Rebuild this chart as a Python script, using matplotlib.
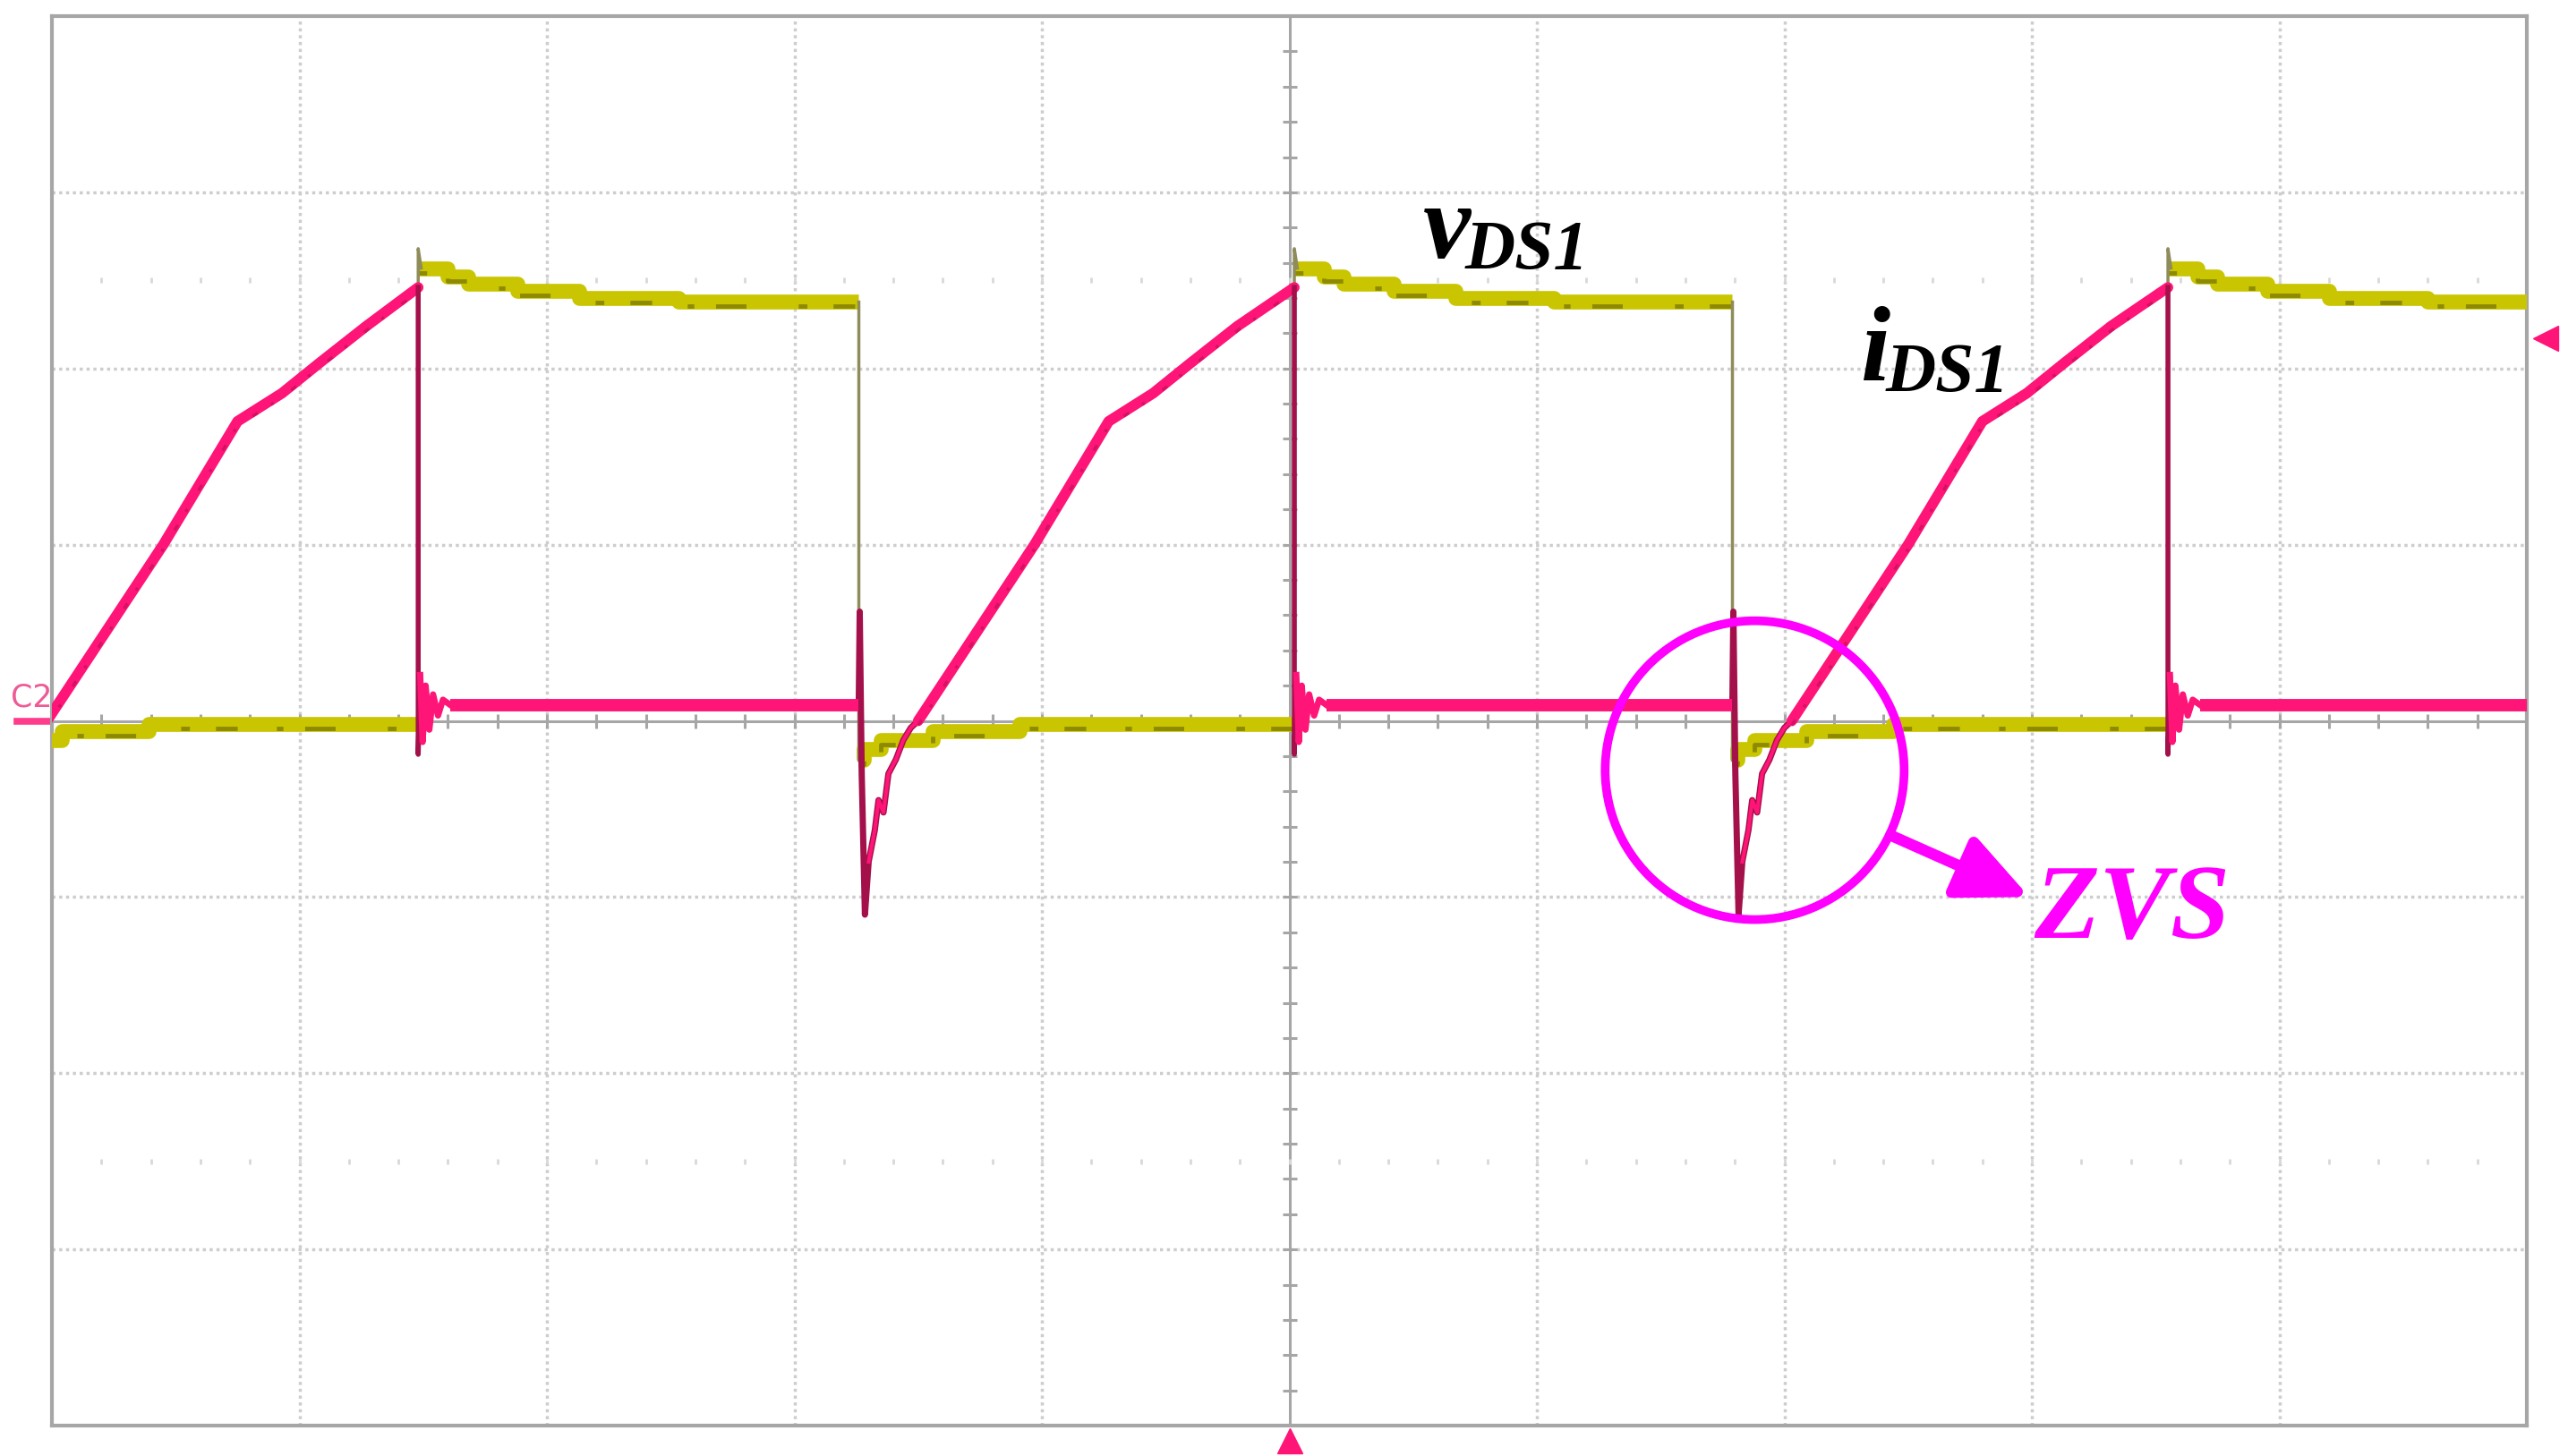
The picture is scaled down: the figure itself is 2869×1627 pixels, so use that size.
import matplotlib.pyplot as plt
from matplotlib.patches import Ellipse, FancyArrowPatch
from matplotlib.transforms import offset_copy

# Scope screen: 10 x 8 divisions, every value below is in divisions
# read off the capture (x from left edge, y from the centre line).

# switching edges of v_DS1
v_rise = [1.48, 5.02, 8.55]
v_fall = [-0.26, 3.26, 6.79]

# v_DS1 plateau after a rising edge (offset, level) and the overshoot spike
v_spike = 2.68
v_high_dt = [0.0, 0.12, 0.20, 0.40, 0.65, 1.05]
v_high_lv = [2.57, 2.52, 2.48, 2.44, 2.40, 2.38]
# v_DS1 plateau after a falling edge
v_low_dt = [0.0, 0.02, 0.09, 0.30, 0.65]
v_low_lv = [-0.22, -0.16, -0.11, -0.06, -0.02]

# i_DS1 turn-on transient, offset from the v_DS1 falling edge
i_on_dt = [0.0, 0.004, 0.012, 0.025, 0.04, 0.065, 0.08, 0.10, 0.12, 0.15, 0.18, 0.21, 0.24]
i_on_lv = [0.09, 0.62, -0.30, -1.10, -0.80, -0.62, -0.45, -0.52, -0.30, -0.22, -0.11, -0.04, 0.00]
# i_DS1 ramp, offset from the zero crossing
i_ramp_dt = [0.0, 0.47, 0.77, 0.95, 1.10, 1.29]
i_ramp_lv = [0.0, 1.00, 1.70, 1.86, 2.03, 2.24]
i_peak = 2.46
# i_DS1 turn-off ringing, offset from the v_DS1 rising edge
i_off_dt = [0.0, 0.008, 0.018, 0.03, 0.045, 0.06, 0.08, 0.10, 0.13]
i_off_lv = [-0.19, 0.26, -0.12, 0.20, -0.05, 0.15, 0.03, 0.12, 0.09]
i_off_level = 0.09

trigger_time = 5.0
trigger_level = 2.17
c2_ground = 0.0

YEL = '#C9C500'
YEL_DARK = '#5E5B00'
YEL_EDGE = '#8F8C5C'
PINK = '#FF1477'
PINK_DARK = '#A3104A'
MAGENTA = '#FF00FF'
GRID = '#CDCDCD'
AXIS = '#A6A6A6'

fig = plt.figure(figsize=(28.69, 16.27), dpi=100)
ax = fig.add_axes([58 / 2869, 1 - 1593 / 1627, 2765 / 2869, 1575 / 1627])
ax.set_xlim(0, 10)
ax.set_ylim(-4, 4)
ax.set_xticks([])
ax.set_yticks([])
for s in ax.spines.values():
    s.set_color(AXIS)
    s.set_linewidth(3)

# graticule
for x in range(1, 10):
    if x != 5:
        ax.axvline(x, color=GRID, lw=2.5, ls=(0, (1, 1.2)), zorder=0)
for y in range(-3, 4):
    if y != 0:
        ax.axhline(y, color=GRID, lw=2.5, ls=(0, (1, 1.2)), zorder=0)
ax.axvline(5, color=AXIS, lw=2.2, zorder=0)
ax.axhline(0, color=AXIS, lw=2.2, zorder=0)
minor_x = [k * 0.2 for k in range(1, 50)]
minor_y = [-4 + k * 0.2 for k in range(1, 40)]
ax.plot([5] * len(minor_y), minor_y, ls='none', marker='_', ms=12, mew=2.2, color=AXIS, zorder=0)
ax.plot(minor_x, [0] * len(minor_x), ls='none', marker='|', ms=12, mew=2.2, color=AXIS, zorder=0)
for yy in (2.5, -2.5):
    ax.plot(minor_x, [yy] * len(minor_x), ls='none', marker='|', ms=5, mew=2, color='#D8D8D8', zorder=0)

# v_DS1 trace
below = offset_copy(ax.transData, fig=fig, x=0, y=-5, units='dots')
edges = sorted([(t, 'r') for t in v_rise] + [(t, 'f') for t in v_fall])
bounds = [e[0] for e in edges[1:]] + [10.0]
for (t0, kind), t1 in zip(edges, bounds):
    dts, lvs = (v_high_dt, v_high_lv) if kind == 'r' else (v_low_dt, v_low_lv)
    xs = [t0 + d for d in dts if t0 + d < t1]
    ys = lvs[:len(xs)]
    xs.append(t1)
    ys.append(ys[-1])
    ax.plot(xs, ys, drawstyle='steps-post', color=YEL, lw=12, solid_capstyle='butt', zorder=3)
    # dark speckle of the display along the band
    ax.plot(xs, ys, drawstyle='steps-post', color=YEL_DARK, lw=3.5, alpha=0.55,
            ls=(0, (2, 6, 5, 9, 1.5, 5, 7, 12)), transform=below, zorder=3)
for t in v_rise:
    ax.plot([t, t, t + 0.012], [v_low_lv[-1], v_spike, v_high_lv[0]], color=YEL_EDGE, lw=2.5, zorder=4)
for t in v_fall:
    ax.plot([t, t], [v_high_lv[-1], v_low_lv[0]], color=YEL_EDGE, lw=2.5, zorder=4)

# i_DS1 trace
for tf, tr in zip(v_fall, v_rise):
    ax.plot([tf + d for d in i_on_dt], i_on_lv, color=PINK_DARK, lw=5, zorder=5)
    ax.plot([tf + d for d in i_on_dt[4:]], i_on_lv[4:], color=PINK, lw=3, zorder=5)
    z = tf + i_on_dt[-1]
    rx = [z + d for d in i_ramp_dt] + [tr]
    ry = i_ramp_lv + [i_peak]
    ax.plot(rx, ry, color=PINK, lw=8.5, solid_capstyle='round', zorder=5)
    ax.plot(rx, ry, color=PINK_DARK, lw=2.5, alpha=0.45, ls=(0, (2, 5, 1, 7)),
            transform=below, zorder=5)
    ox = [tr] + [tr + d for d in i_off_dt]
    oy = [i_peak] + i_off_lv
    ax.plot(ox, oy, color=PINK_DARK, lw=4, zorder=5)
    ax.plot(ox[2:], oy[2:], color=PINK, lw=5, zorder=5)
starts = [tr + i_off_dt[-1] for tr in v_rise]
ends = v_fall[1:] + [10.0]
for a, b in zip(starts, ends):
    ax.plot([a, b], [i_off_level, i_off_level], color=PINK, lw=10, solid_capstyle='butt', zorder=5)

# scope markers outside the screen
ax.plot([trigger_time], [-4.085], marker='^', ms=20, color=PINK, clip_on=False, zorder=6)
ax.plot([10.075], [trigger_level], marker='<', ms=20, color=PINK, clip_on=False, zorder=6)
ax.plot([-0.14, -0.015], [c2_ground, c2_ground], color='#FF3C8C', lw=5.5, clip_on=False)
ax.text(-0.165, c2_ground + 0.08, 'C2', color='#EE5A95', fontsize=25, ha='left', va='baseline',
        fontfamily='DejaVu Sans', clip_on=False)

# labels
lab = dict(fontfamily='Liberation Serif', fontweight='bold', fontstyle='italic',
           ha='left', va='baseline', zorder=8)
ax.text(5.54, 2.63, 'v', fontsize=86, color='black', **lab)
ax.text(5.71, 2.57, 'DS1', fontsize=56, color='black', **lab)
ax.text(7.31, 1.94, 'i', fontsize=86, color='black', **lab)
ax.text(7.41, 1.87, 'DS1', fontsize=56, color='black', **lab)
ax.text(8.01, -1.23, 'ZVS', fontsize=86, color=MAGENTA, **lab)

ax.add_patch(Ellipse((6.88, -0.28), 1.208, 1.696, fill=False, ec=MAGENTA, lw=7, zorder=9))
ax.add_patch(FancyArrowPatch((7.43, -0.65), (7.99, -1.0),
                             arrowstyle='-|>,head_length=1.2,head_width=0.55',
                             mutation_scale=40, lw=9, color=MAGENTA,
                             shrinkA=0, shrinkB=0, zorder=9))

fig.savefig('out.png', dpi=100, facecolor='white')
